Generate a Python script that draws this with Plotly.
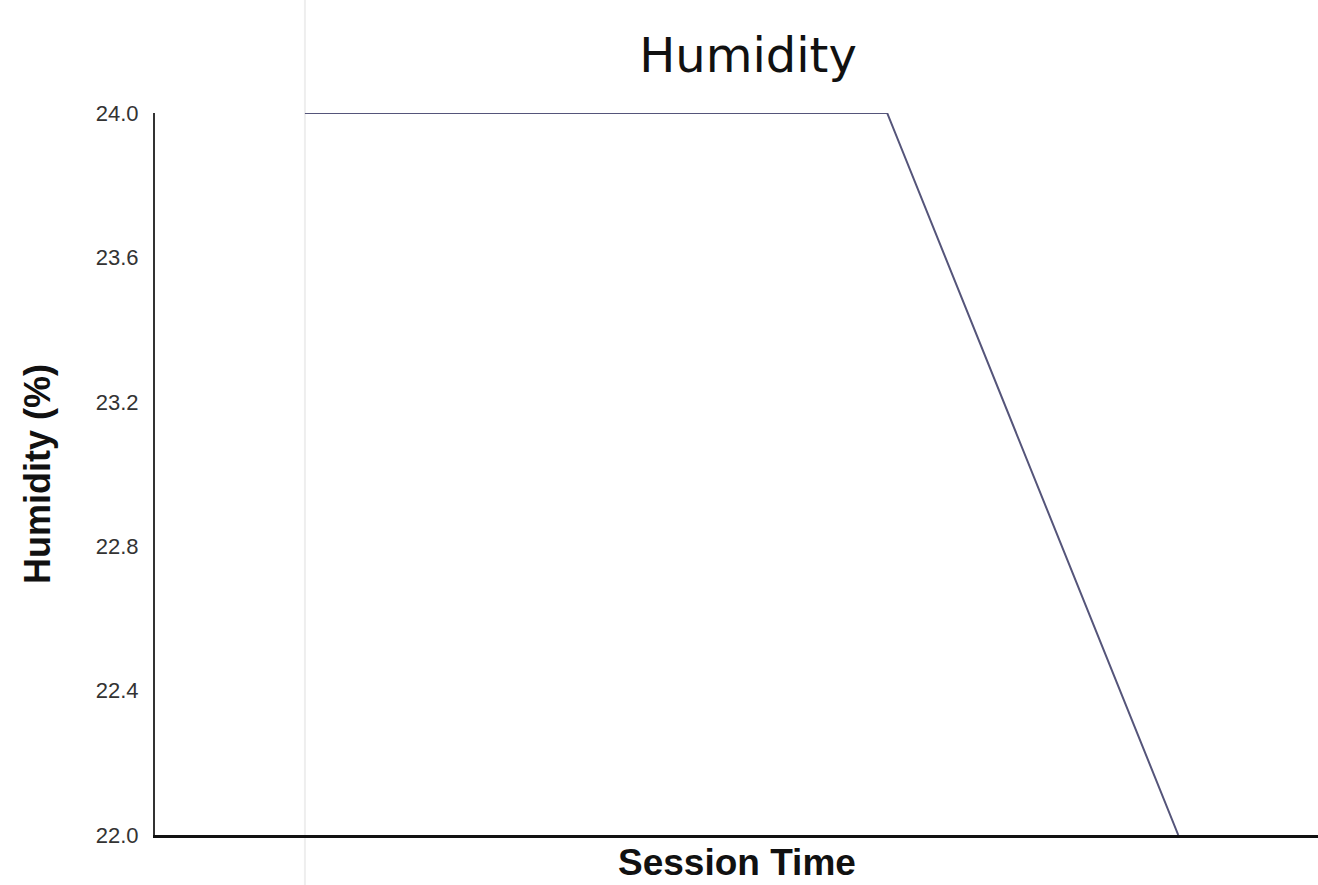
import plotly.graph_objects as go

session_idx = [0, 1, 2, 3]
humidity = [24.0, 24.0, 24.0, 22.0]
y_ticks = [22.0, 22.4, 22.8, 23.2, 23.6, 24.0]
y_tick_text = ["22.0", "22.4", "22.8", "23.2", "23.6", "24.0"]

W, H = 1318, 885

fig = go.Figure()
fig.add_trace(go.Scatter(x=session_idx, y=humidity, mode="lines",
                         line=dict(color="#55557a", width=2), showlegend=False))

fig.add_shape(type="line", xref="x", yref="paper", x0=0, x1=0, y0=-0.2, y1=1.3,
              line=dict(color="#eeeeee", width=2), layer="below")

fig.add_annotation(text="<b>Session Time</b>", xref="paper", yref="paper",
                   x=0.5, y=-27/722, xanchor="center", yanchor="middle", showarrow=False,
                   font=dict(family="Liberation Sans", size=37, color="#111"))

fig.update_layout(
    width=W, height=H,
    paper_bgcolor="white", plot_bgcolor="white",
    margin=dict(l=155, r=0, t=113, b=50),
    title=dict(text="Humidity", x=748/W, xanchor="center", y=1-55/H, yanchor="middle",
               font=dict(family="DejaVu Sans", size=48, color="#111")),
    xaxis=dict(range=[-0.515, 3.48], showticklabels=False, showgrid=False, zeroline=False,
               showline=True, linecolor="#111", linewidth=3, ticks=""),
    yaxis=dict(range=[22.0, 24.0], tickvals=y_ticks, ticktext=y_tick_text, showgrid=False,
               zeroline=False, showline=True, linecolor="#333", linewidth=2, ticks="",
               ticklabelstandoff=10,
               tickfont=dict(family="Liberation Sans", size=22, color="#333"),
               title=dict(text="<b>Humidity (%)</b>", standoff=34,
                          font=dict(family="Liberation Sans", size=36, color="#111"))),
)

fig.write_html("out.html", config={"displayModeBar": False},
               post_script="document.body.style.margin='0';document.body.style.overflow='hidden';")
